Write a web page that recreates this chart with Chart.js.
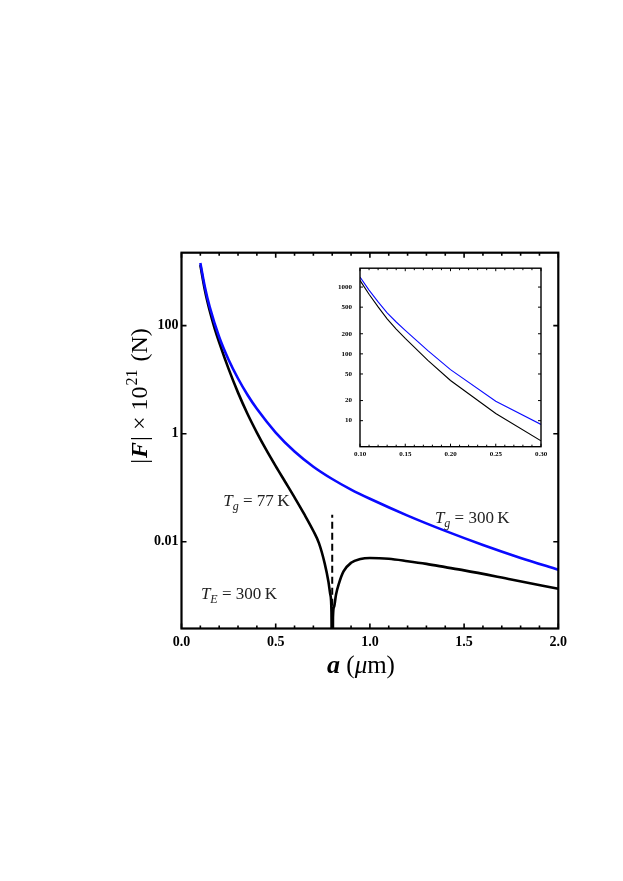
<!DOCTYPE html>
<html>
<head>
<meta charset="utf-8">
<script src="https://cdn.jsdelivr.net/npm/chart.js@4.4.0/dist/chart.umd.min.js"></script>
<style>
    html, body { margin: 0; padding: 0; background: #fff; }
    #wrap { position: relative; width: 623px; height: 881px; }
    #main { position: absolute; left: 0; top: 0; }
    #inset { position: absolute; left: 320px; top: 256px; }
</style>
</head>
<body>
<div id="wrap">
    <canvas id="main" width="623" height="881"></canvas>
    <canvas id="inset" width="232" height="206"></canvas>
</div>
<script>
// Main panel: |F| x 10^21 (N) against a (um)
const blueA = [0.1, 0.125, 0.15, 0.2, 0.25, 0.3, 0.35, 0.4, 0.5, 0.6, 0.7, 0.8, 0.9, 1.0, 1.2, 1.4, 1.6, 1.8, 2.0];
const blueF = [1445, 501, 219, 61.7, 23.4, 10.5, 5.25, 2.88, 1.05, 0.468, 0.245, 0.145, 0.0923, 0.0624, 0.0305, 0.0159, 0.00873, 0.00502, 0.00303];

const blackA = [0.1, 0.125, 0.15, 0.175, 0.2, 0.25, 0.3, 0.35, 0.4, 0.45, 0.5, 0.55, 0.6, 0.65, 0.7, 0.73, 0.76, 0.78, 0.79, 0.796,
    0.8, 0.804, 0.81, 0.82, 0.835, 0.86, 0.9, 0.95, 1.0, 1.1, 1.2, 1.3, 1.4, 1.5, 1.75, 2.0];
const blackF = [1318, 437, 186, 91.2, 49.0, 15.8, 5.75, 2.34, 1.05, 0.501, 0.251, 0.129, 0.0661, 0.0331, 0.0158, 0.00933, 0.00398, 0.00182, 0.00105, 0.0005,
    0.000001, 0.0004, 0.00063, 0.00105, 0.00166, 0.00282, 0.00407, 0.00479, 0.0050, 0.00484, 0.00437, 0.00389, 0.00339, 0.00295, 0.0020, 0.00135];

// vertical dashed marker
const dashA = 0.8;
const dashTop = 0.0316;

// Inset panel
const insetA = [0.10, 0.11, 0.12, 0.13, 0.14, 0.15, 0.175, 0.20, 0.25, 0.30];
const insetBlue = [1413, 900, 600, 410, 300, 225, 112, 58, 19.5, 8.8];
const insetBlack = [1259, 780, 505, 335, 235, 170, 80, 40, 12.8, 5.0];

// Ticks
const xTicks = [0, 0.5, 1.0, 1.5, 2.0];
const yTicks = [0.01, 1, 100];
const yTickLabels = ['0.01', '1', '100'];
const insetXTicks = [0.10, 0.15, 0.20, 0.25, 0.30];
const insetYTicks = [10, 20, 50, 100, 200, 500, 1000];

const SERIF = "'Liberation Serif', 'DejaVu Serif', serif";
const BLUE = '#0a0aff';

function pts(xs, ys) {
    return xs.map((x, i) => ({ x: x, y: ys[i] }));
}

// draw a run of text pieces with different fonts; gap adds extra space after a piece
function drawRich(ctx, parts, x, y, align) {
    let total = 0;
    parts.forEach(p => {
        ctx.font = p.font;
        p.w = ctx.measureText(p.text).width + (p.gap || 0);
        total += p.w;
    });
    let cx = align === 'center' ? x - total / 2 : x;
    parts.forEach(p => {
        ctx.font = p.font;
        ctx.fillText(p.text, cx, y + (p.dy || 0));
        cx += p.w;
    });
}

// inward ticks on all four sides plus the frame
function drawFrame(chart, cfg) {
    const ctx = chart.ctx;
    const area = chart.chartArea;
    const xs = chart.scales.x;
    const ys = chart.scales.y;
    ctx.save();
    ctx.strokeStyle = '#000';
    ctx.lineWidth = cfg.tickWidth;
    ctx.beginPath();
    cfg.xMinor.forEach(v => {
        const px = xs.getPixelForValue(v);
        ctx.moveTo(px, area.bottom); ctx.lineTo(px, area.bottom - cfg.minorLen);
        ctx.moveTo(px, area.top); ctx.lineTo(px, area.top + cfg.minorLen);
    });
    cfg.xMajor.forEach(v => {
        const px = xs.getPixelForValue(v);
        ctx.moveTo(px, area.bottom); ctx.lineTo(px, area.bottom - cfg.majorLen);
        ctx.moveTo(px, area.top); ctx.lineTo(px, area.top + cfg.majorLen);
    });
    cfg.yMajor.forEach(v => {
        const py = ys.getPixelForValue(v);
        ctx.moveTo(area.left, py); ctx.lineTo(area.left + cfg.majorLen, py);
        ctx.moveTo(area.right, py); ctx.lineTo(area.right - cfg.majorLen, py);
    });
    ctx.stroke();
    ctx.lineWidth = cfg.frameWidth;
    ctx.strokeRect(area.left, area.top, area.right - area.left, area.bottom - area.top);
    ctx.restore();
}

const mainMinor = [];
for (let i = 0; i <= 20; i++) {
    if (i % 5 !== 0) mainMinor.push(i / 10);
}
const insetMinor = [];
for (let i = 10; i <= 30; i++) {
    if (i % 5 !== 0) insetMinor.push(i / 100);
}

const mainDecor = {
    id: 'mainDecor',
    afterDraw(chart) {
        drawFrame(chart, {
            xMinor: mainMinor, xMajor: xTicks, yMajor: yTicks,
            minorLen: 3, majorLen: 5, tickWidth: 1.6, frameWidth: 2.2
        });
        const ctx = chart.ctx;
        const xs = chart.scales.x;
        const ys = chart.scales.y;
        ctx.save();
        ctx.fillStyle = '#000';
        ctx.textBaseline = 'alphabetic';

        // y axis title
        ctx.save();
        ctx.translate(147, 396);
        ctx.rotate(-Math.PI / 2);
        drawRich(ctx, [
            { text: '|', font: '24px ' + SERIF, gap: 1 },
            { text: 'F', font: 'italic bold 24px ' + SERIF, gap: 1 },
            { text: '| \u00d7 10', font: '24px ' + SERIF, gap: 1 },
            { text: '21', font: '16px ' + SERIF, dy: -10, gap: 2 },
            { text: ' (N)', font: '24px ' + SERIF }
        ], 0, 0, 'center');
        ctx.restore();

        // x axis title
        drawRich(ctx, [
            { text: 'a', font: 'italic bold 26px ' + SERIF },
            { text: ' (', font: '25px ' + SERIF },
            { text: '\u03bc', font: 'italic 25px ' + SERIF },
            { text: 'm)', font: '25px ' + SERIF }
        ], 361, 673, 'center');

        // curve annotations
        ctx.fillStyle = '#222';
        const notes = [
            { a: 0.222, f: 0.045, sub: 'g', rest: ' = 77\u2009K' },
            { a: 1.345, f: 0.0225, sub: 'g', rest: ' = 300\u2009K' },
            { a: 0.103, f: 0.00089, sub: 'E', rest: ' = 300\u2009K' }
        ];
        notes.forEach(n => {
            drawRich(ctx, [
                { text: 'T', font: 'italic 17px ' + SERIF },
                { text: n.sub, font: 'italic 12px ' + SERIF, dy: 4 },
                { text: n.rest, font: '17px ' + SERIF }
            ], xs.getPixelForValue(n.a), ys.getPixelForValue(n.f), 'left');
        });
        ctx.restore();
    }
};

const insetDecor = {
    id: 'insetDecor',
    afterDraw(chart) {
        drawFrame(chart, {
            xMinor: insetMinor, xMajor: insetXTicks, yMajor: insetYTicks,
            minorLen: 2, majorLen: 3, tickWidth: 1, frameWidth: 1.4
        });
    }
};

const mainChart = new Chart(document.getElementById('main'), {
    type: 'line',
    data: {
        datasets: [{
            label: 'Tg = 300 K',
            data: pts(blueA, blueF),
            borderColor: BLUE,
            borderWidth: 2.6,
            pointRadius: 0,
            cubicInterpolationMode: 'monotone'
        }, {
            label: 'Tg = 77 K',
            data: pts(blackA, blackF),
            borderColor: '#000',
            borderWidth: 2.6,
            pointRadius: 0,
            cubicInterpolationMode: 'monotone'
        }, {
            label: 'marker',
            data: [{ x: dashA, y: 0.0001 }, { x: dashA, y: dashTop }],
            borderColor: '#000',
            borderWidth: 2,
            borderDash: [7, 4],
            pointRadius: 0
        }]
    },
    options: {
        responsive: false,
        animation: false,
        layout: {
            padding: { left: 0, top: 252.7, right: 64.7, bottom: 0 }
        },
        plugins: {
            legend: { display: false },
            tooltip: { enabled: false }
        },
        scales: {
            x: {
                type: 'linear',
                min: 0,
                max: 2,
                afterBuildTicks: function(scale) {
                    scale.ticks = xTicks.map(v => ({ value: v }));
                },
                afterFit: function(scale) {
                    scale.height = 881 - 628.5;
                },
                grid: { display: false, drawTicks: false },
                border: { display: false },
                ticks: {
                    padding: 5,
                    color: '#000',
                    font: { family: SERIF, weight: 'bold', size: 14 },
                    callback: function(value) {
                        return value.toFixed(1);
                    }
                }
            },
            y: {
                type: 'logarithmic',
                min: 0.000248,
                max: 2235,
                afterBuildTicks: function(scale) {
                    scale.ticks = yTicks.map(v => ({ value: v }));
                },
                afterFit: function(scale) {
                    scale.width = 181.5;
                },
                grid: { display: false, drawTicks: false },
                border: { display: false },
                ticks: {
                    padding: 3,
                    color: '#000',
                    font: { family: SERIF, weight: 'bold', size: 14 },
                    callback: function(value) {
                        const i = yTicks.indexOf(value);
                        return i >= 0 ? yTickLabels[i] : '';
                    }
                }
            }
        }
    },
    plugins: [mainDecor]
});

const insetChart = new Chart(document.getElementById('inset'), {
    type: 'line',
    data: {
        datasets: [{
            label: 'Tg = 300 K',
            data: pts(insetA, insetBlue),
            borderColor: BLUE,
            borderWidth: 1.1,
            pointRadius: 0,
            tension: 0
        }, {
            label: 'Tg = 77 K',
            data: pts(insetA, insetBlack),
            borderColor: '#000',
            borderWidth: 1.1,
            pointRadius: 0,
            tension: 0
        }]
    },
    options: {
        responsive: false,
        animation: false,
        layout: {
            padding: { left: 0, top: 7.3, right: 11, bottom: 0 }
        },
        plugins: {
            legend: { display: false },
            tooltip: { enabled: false }
        },
        scales: {
            x: {
                type: 'linear',
                min: 0.1,
                max: 0.3,
                afterBuildTicks: function(scale) {
                    scale.ticks = insetXTicks.map(v => ({ value: v }));
                },
                afterFit: function(scale) {
                    scale.height = 206 - 190.7;
                },
                grid: { display: false, drawTicks: false },
                border: { display: false },
                ticks: {
                    padding: 3,
                    color: '#000',
                    font: { family: SERIF, weight: 'bold', size: 7 },
                    callback: function(value) {
                        return value.toFixed(2);
                    }
                }
            },
            y: {
                type: 'logarithmic',
                min: 4.08,
                max: 1915,
                afterBuildTicks: function(scale) {
                    scale.ticks = insetYTicks.map(v => ({ value: v }));
                },
                afterFit: function(scale) {
                    scale.width = 40;
                },
                grid: { display: false, drawTicks: false },
                border: { display: false },
                ticks: {
                    padding: 8,
                    color: '#000',
                    font: { family: SERIF, weight: 'bold', size: 7 },
                    callback: function(value) {
                        return String(value);
                    }
                }
            }
        }
    },
    plugins: [insetDecor]
});
</script>
</body>
</html>
